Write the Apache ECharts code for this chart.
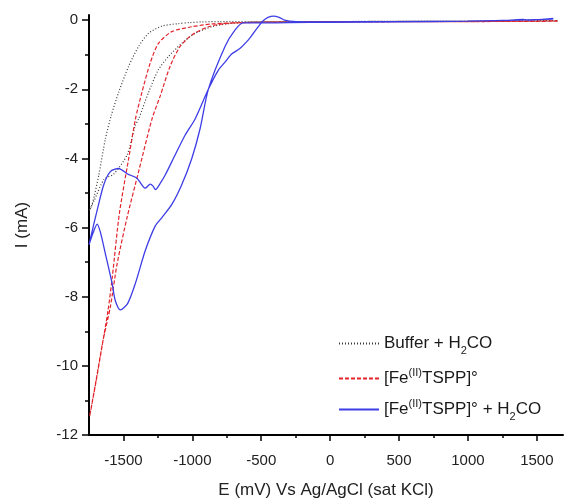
<!DOCTYPE html>
<html>
<head>
<meta charset="utf-8">
<script src="https://cdn.jsdelivr.net/npm/echarts@6/dist/echarts.min.js"></script>
<style>
    html, body { margin: 0; padding: 0; background: #fff; }
    #id-div-chart { width: 565px; height: 504px; }
</style>
</head>
<body>
<div id="id-div-chart"></div>
<script>
// tick labels
const xTicks = [-1500, -1000, -500, 0, 500, 1000, 1500]
const xMinorTicks = [-1250, -750, -250, 250, 750, 1250]
const yTicks = [-12, -10, -8, -6, -4, -2, 0]
const yMinorTicks = [-11, -9, -7, -5, -3, -1]

const names = ['Buffer + H2CO', '[Fe(II)TSPP]°', '[Fe(II)TSPP]° + H2CO']

// Buffer + H2CO (mV, mA)
const bufferE = [1650, 1000, 500, 0, -500, -800, -932, -1020, -1103, -1221, -1318, -1390, -1462, -1535, -1588, -1631, -1679, -1727, -1748,
    -1715, -1640, -1570, -1474, -1414, -1390, -1318, -1246, -1173, -1077, -980, -860, -715, -500, 0, 1000, 1650]
const bufferI = [-0.02, -0.03, -0.03, -0.04, -0.04, -0.04, -0.05, -0.07, -0.1, -0.17, -0.38, -0.76, -1.33, -2.09, -2.75, -3.43, -4.48, -5.33, -5.5,
    -5.24, -4.6, -4.45, -3.9, -3.05, -2.86, -2.09, -1.43, -1.05, -0.67, -0.38, -0.19, -0.09, -0.05, -0.04, -0.03, -0.01]

// [Fe(II)TSPP]°
const feE = [1650, 1000, 500, 0, -500, -700, -860, -1004, -1149, -1246, -1306, -1366, -1413, -1462, -1530, -1580, -1612, -1655, -1700, -1745,
    -1700, -1650, -1595, -1546, -1474, -1390, -1293, -1233, -1161, -1089, -1004, -884, -740, -500, 0, 1000, 1650]
const feI = [-0.03, -0.04, -0.04, -0.05, -0.06, -0.08, -0.11, -0.19, -0.33, -0.67, -1.24, -2.09, -2.86, -4.0, -5.6, -7.4, -8.4, -9.43, -10.48, -11.45,
    -10.45, -9.3, -8.29, -7.05, -5.71, -4.38, -2.86, -2.19, -1.33, -0.76, -0.43, -0.19, -0.09, -0.06, -0.05, -0.04, -0.02]

// [Fe(II)TSPP]° + H2CO
const fe2E = [1620, 1450, 1400, 1300, 1200, 1000, 500, 0, -300, -500, -633, -691, -763, -884, -944, -1004, -1077, -1149, -1221, -1269,
    -1342, -1414, -1470, -1522, -1560, -1582, -1631, -1667, -1691, -1720, -1750, -1727, -1691, -1643, -1595, -1535, -1470, -1402, -1342, -1305,
    -1285, -1268, -1230, -1197, -1125, -1053, -980, -884, -812, -760, -715, -655, -600, -561, -520, -490, -451, -410, -370, -330,
    -294, -200, 0, 500, 1000, 1620]
const fe2I = [0.05, 0.0, 0.02, 0.0, -0.01, -0.03, -0.05, -0.06, -0.07, -0.08, -0.08, -0.29, -0.76, -2.0, -3.14, -4.0, -4.76, -5.33, -5.71, -5.95,
    -6.67, -7.62, -8.2, -8.38, -8.1, -7.62, -6.76, -6.14, -5.9, -6.15, -6.5, -6.1, -5.5, -4.76, -4.38, -4.29, -4.45, -4.57, -4.86, -4.74,
    -4.8, -4.9, -4.7, -4.48, -3.9, -3.33, -2.86, -2.0, -1.45, -1.2, -0.98, -0.82, -0.6, -0.4, -0.18, -0.03, 0.08, 0.12, 0.08, 0.0,
    -0.03, -0.05, -0.05, -0.04, -0.03, 0.03]

const font = 'Liberation Sans, Arial, sans-serif'

const zip = function (xs, ys) {
    let r = []
    for (let i = 0; i < xs.length; i++) {
        r.push([xs[i], ys[i]])
    }
    return r
}

// legend text with sub / superscripts
const legendText = {
    'Buffer + H2CO': '{n|Buffer + H}{sub|2}{n|CO}',
    '[Fe(II)TSPP]°': '{n|[Fe}{sup|(II)}{n|TSPP]°}',
    '[Fe(II)TSPP]° + H2CO': '{n|[Fe}{sup|(II)}{n|TSPP]° + H}{sub|2}{n|CO}',
}

const makeLegend = function (name, top) {
    return {
        data: [name],
        left: 333,
        top: top,
        orient: 'vertical',
        itemWidth: 40,
        itemHeight: 12,
        selectedMode: false,
        itemStyle: { opacity: 0 },
        formatter: n => legendText[n],
        textStyle: {
            rich: {
                n: { fontSize: 17, color: '#1a1a1a', fontFamily: font },
                sub: { fontSize: 11, color: '#1a1a1a', fontFamily: font, padding: [14, 0, 0, 0] },
                sup: { fontSize: 11, color: '#1a1a1a', fontFamily: font, padding: [0, 0, 12, 0] },
            }
        }
    }
}

const valueAxis = function (o) {
    return Object.assign({
        type: 'value',
        splitLine: { show: false },
        axisLine: { show: true, onZero: false, lineStyle: { color: '#000', width: 2 } },
    }, o)
}

const plain = v => String(v)

const main = function () {
    let chart = echarts.init(document.getElementById('id-div-chart'), null, { renderer: 'canvas' })
    let option = {
        animation: false,
        backgroundColor: '#fff',
        grid: { left: 89, right: 2, top: 15, bottom: 64 },
        legend: [
            makeLegend(names[0], 330),
            makeLegend(names[1], 362),
            makeLegend(names[2], 393),
        ],
        xAxis: [
            valueAxis({
                min: -1750, max: 1690, position: 'bottom',
                axisTick: { show: true, customValues: xTicks, length: 6, lineStyle: { color: '#000', width: 1.5 } },
                axisLabel: { customValues: xTicks, formatter: plain, fontSize: 15, margin: 18, color: '#222', fontFamily: font },
                name: 'E (mV) Vs Ag/AgCl (sat KCl)',
                nameLocation: 'middle',
                nameGap: 47,
                nameTextStyle: { fontSize: 17, color: '#222', fontFamily: font },
            }),
            valueAxis({
                min: -1750, max: 1690, position: 'bottom',
                axisLine: { show: false, onZero: false },
                axisTick: { show: true, customValues: xMinorTicks, length: 3, lineStyle: { color: '#000', width: 1.5 } },
                axisLabel: { show: false },
            }),
        ],
        yAxis: [
            valueAxis({
                min: -12, max: 0.15, position: 'left',
                axisTick: { show: true, customValues: yTicks, length: 7, lineStyle: { color: '#000', width: 1.5 } },
                axisLabel: { customValues: yTicks, formatter: plain, fontSize: 15, margin: 11, color: '#222', fontFamily: font },
                name: 'I (mA)',
                nameLocation: 'middle',
                nameGap: 58,
                nameTextStyle: { fontSize: 17, color: '#222', fontFamily: font },
            }),
            valueAxis({
                min: -12, max: 0.15, position: 'left',
                axisLine: { show: false, onZero: false },
                axisTick: { show: true, customValues: yMinorTicks, length: 4, lineStyle: { color: '#000', width: 1.5 } },
                axisLabel: { show: false },
            }),
        ],
        series: [
            {
                name: names[0],
                type: 'line',
                data: zip(bufferE, bufferI),
                symbol: 'none',
                smooth: 0.25,
                lineStyle: { color: '#3a3a3a', width: 1.2, type: [1, 2] },
                itemStyle: { color: '#3a3a3a' },
                z: 2,
            },
            {
                name: names[1],
                type: 'line',
                data: zip(feE, feI),
                symbol: 'none',
                smooth: 0.25,
                lineStyle: { color: '#e3242b', width: 1.2, type: [4, 2] },
                itemStyle: { color: '#e3242b' },
                z: 3,
            },
            {
                name: names[2],
                type: 'line',
                data: zip(fe2E, fe2I),
                symbol: 'none',
                smooth: 0.25,
                lineStyle: { color: '#3d3de6', width: 1.3 },
                itemStyle: { color: '#3d3de6' },
                z: 4,
            },
        ]
    }
    chart.setOption(option)
}

main()
</script>
</body>
</html>
